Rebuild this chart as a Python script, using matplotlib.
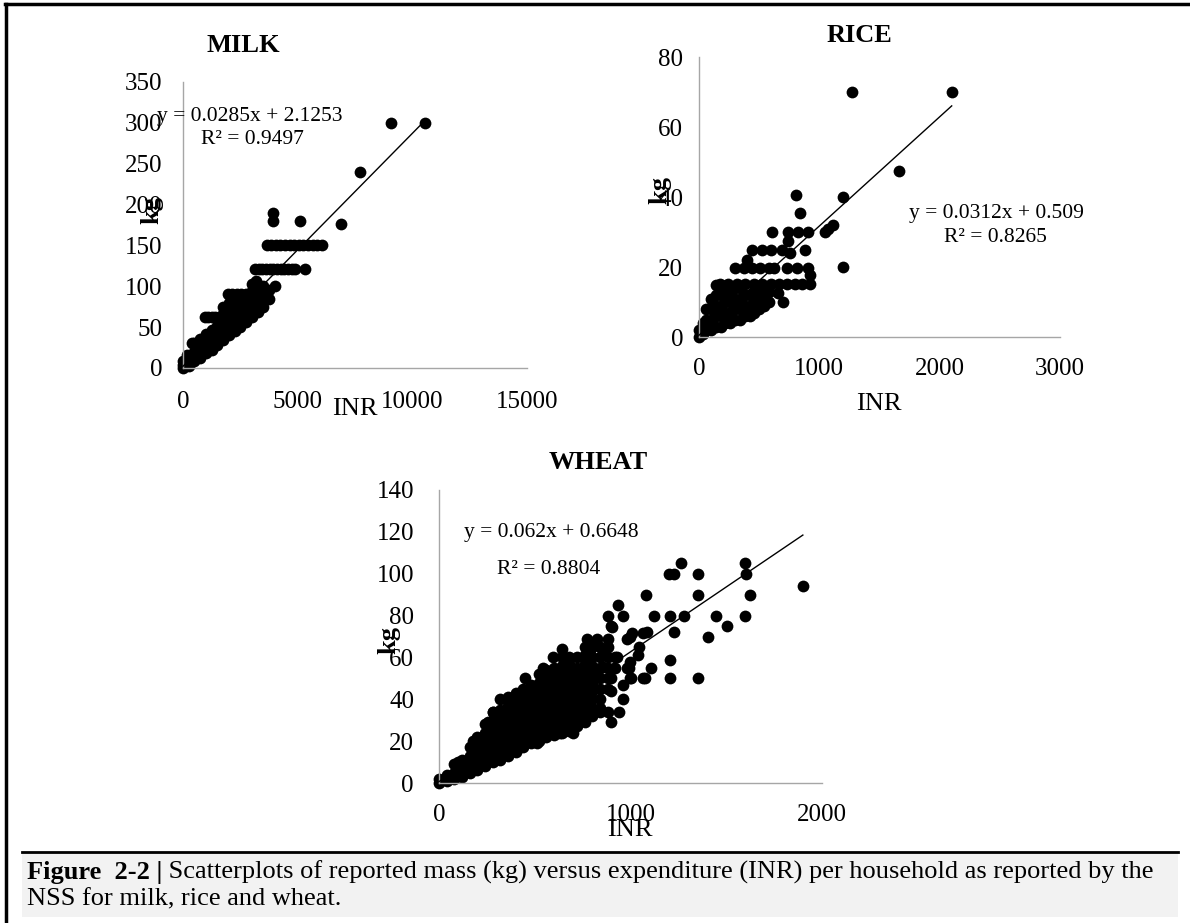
import matplotlib
matplotlib.use("Agg")
import matplotlib.pyplot as plt
from matplotlib.patches import Rectangle
from matplotlib.lines import Line2D

plt.rcParams['font.family'] = ['Liberation Serif', 'DejaVu Serif']

W, H = 1190, 923

# ---------------- DATA ----------------
# MILK (INR, kg)
milk_points = [(9050, 300), (10550, 300), (7700, 240), (6880, 176), (3940, 190), (3940, 180), (5100, 180),
               (3650, 150), (3850, 150), (4050, 150), (4250, 150), (4450, 150), (4650, 150), (4850, 150),
               (5050, 150), (5250, 150), (5450, 150), (5650, 150), (5850, 150), (6050, 150),
               (3140, 121), (3300, 121), (3460, 121), (3620, 121), (3780, 121), (3940, 121), (4100, 121),
               (4260, 121), (4420, 121), (4580, 121), (4740, 121), (4900, 121), (5330, 121),
               (3165, 106), (4000, 100),
               (1975, 90), (2150, 90), (2350, 90), (2550, 90), (2750, 90), (2950, 90), (3150, 90), (3350, 90),
               (960, 62), (1100, 62), (1250, 62), (1400, 62), (1550, 62),
               (380, 30), (160, 16)]
milk_band = [(0, [0, 4, 8]), (250, [3, 8, 14]), (500, [8, 14, 20, 30]), (750, [12, 18, 25, 35]),
             (1000, [18, 25, 33, 42]), (1250, [22, 30, 38, 47]), (1500, [28, 36, 44, 52]),
             (1750, [34, 42, 50, 58, 66, 75]), (2000, [40, 48, 56, 64, 72, 80]),
             (2250, [45, 53, 61, 69, 77, 85]), (2500, [50, 58, 66, 74, 82]),
             (2750, [56, 64, 72, 80, 88]), (3000, [62, 70, 78, 86, 94, 103]),
             (3250, [68, 76, 84, 92, 100]), (3500, [75, 83, 91, 100]), (3750, [85, 95])]
milk_slope, milk_icpt, milk_r2 = 0.0285, 2.1253, 0.9497

# RICE (INR, kg)
rice_points = [(1270, 70), (2100, 70), (1660, 47.5), (1200, 40), (805, 40.6), (840, 35.4), (1200, 20),
               (1050, 30), (1075, 31), (1115, 32),
               (605, 30), (742, 30), (825, 30), (908, 30), (742, 27.3), (881, 24.9),
               (438, 24.9), (520, 24.9), (600, 24.9), (687, 24.9), (756, 24), (396, 22),
               (299, 19.6), (370, 19.6), (440, 19.6), (510, 19.6), (580, 19.6), (620, 19.6),
               (729, 19.6), (812, 19.6), (908, 19.6), (922, 17.7),
               (175, 15.2), (245, 15.2), (315, 15.2), (385, 15.2), (455, 15.2), (525, 15.2),
               (595, 15.2), (665, 15.2), (735, 15.2), (800, 15.2), (860, 15.2), (922, 15.2),
               (659, 12.5), (700, 10)]
rice_blob = [(0, [0, 2]), (30, [1, 4]), (60, [2, 5, 8]), (100, [2, 5, 8, 11]),
             (140, [3, 6, 9, 12, 15]), (180, [3, 6, 9, 12, 15]), (220, [4, 7, 10, 13]),
             (260, [4, 7, 10, 13]), (300, [5, 8, 11, 14]), (340, [5, 8, 11, 14]),
             (380, [6, 9, 12]), (420, [6, 9, 12]), (460, [7, 10, 13]), (500, [8, 11, 14]),
             (540, [9, 12]), (580, [10, 13])]
rice_slope, rice_icpt, rice_r2 = 0.0312, 0.509, 0.8265

# WHEAT (INR, kg)
wheat_points = [(1900, 94), (1600, 105), (1605, 100), (1625, 90), (1600, 80), (1505, 75), (1445, 80),
                (1405, 70), (1355, 100), (1355, 90), (1355, 50), (1265, 105), (1200, 100), (1225, 100),
                (1280, 80), (1205, 80), (1225, 72), (1205, 59), (1205, 50), (1080, 90), (1125, 80),
                (1105, 55), (1075, 50), (1085, 72), (1045, 65), (1006, 71.5), (980, 69), (885, 80),
                (935, 85), (960, 80), (900, 75), (1005, 50), (990, 55), (960, 47), (900, 50), (900, 44),
                (960, 40), (940, 34), (900, 29), (840, 34), (884, 34), (997, 70), (1067, 71.5),
                (980, 55), (997, 50), (1067, 50), (858, 63.6), (928, 60.4), (997, 58), (1041, 61),
                (824, 69), (884, 69), (771, 69), (789, 63.6), (858, 55.6), (902, 74.7),
                (101, 10), (179, 20), (258, 29), (284, 34), (319, 40), (449, 50), (545, 55),
                (641, 64), (597, 60), (701, 24), (632, 24), (510, 19)]
wheat_blob = [(0, [0, 2]), (40, [1, 4]), (80, [2, 5, 9]), (120, [3, 7, 11]), (160, [5, 9, 13, 17]),
              (200, [6, 10, 14, 18, 22]), (240, [8, 12, 16, 20, 24, 28]),
              (280, [10, 14, 18, 22, 26, 30, 34]), (320, [11, 15, 19, 23, 27, 31, 35]),
              (360, [13, 17, 21, 25, 29, 33, 37, 41]), (400, [15, 19, 23, 27, 31, 35, 39, 43]),
              (440, [17, 21, 25, 29, 33, 37, 41, 45]), (480, [19, 23, 27, 31, 35, 39, 43, 47]),
              (520, [20, 24, 28, 32, 36, 40, 44, 48, 52]), (560, [22, 26, 30, 34, 38, 42, 46, 50, 54]),
              (600, [23, 27, 31, 35, 39, 43, 47, 51, 55]), (640, [24, 28, 32, 36, 40, 44, 48, 52, 56, 60]),
              (680, [25, 29, 33, 37, 41, 45, 49, 53, 57, 60]), (720, [27, 31, 35, 39, 43, 47, 51, 55, 60]),
              (760, [29, 33, 37, 41, 45, 49, 53, 57, 61, 65]), (800, [32, 36, 40, 44, 48, 52, 56, 60, 65]),
              (840, [36, 40, 45, 50, 55, 60, 65]), (880, [45, 50, 55, 60, 65]), (920, [55, 60])]
wheat_slope, wheat_icpt, wheat_r2 = 0.062, 0.6648, 0.8804

milk_yticks = [0, 50, 100, 150, 200, 250, 300, 350]
milk_xticks = [0, 5000, 10000, 15000]
rice_yticks = [0, 20, 40, 60, 80]
rice_xticks = [0, 1000, 2000, 3000]
wheat_yticks = [0, 20, 40, 60, 80, 100, 120, 140]
wheat_xticks = [0, 1000, 2000]

caption_bold = "Figure  2-2 |"
caption_rest = " Scatterplots of reported mass (kg) versus expenditure (INR) per household as reported by the"
caption_line2 = "NSS for milk, rice and wheat."


def flatten(points, cols):
    xs = [p[0] for p in points]
    ys = [p[1] for p in points]
    for x, yl in cols:
        for y in yl:
            xs.append(x)
            ys.append(y)
    return xs, ys


fig = plt.figure(figsize=(W / 100, H / 100), dpi=100)


def rect(l, t, r, b):
    return [l / W, 1 - b / H, (r - l) / W, (b - t) / H]


def ftext(x, y, s, **kw):
    return fig.text(x / W, 1 - y / H, s, **kw)


def make_panel(box, xs, ys, slope, icpt, xlim, ylim, xticks, yticks, xpad, ypad):
    ax = fig.add_axes(rect(*box))
    ax.scatter(xs, ys, s=72, c='black', linewidths=0, zorder=2, clip_on=False)
    xmax = max(xs)
    ax.plot([0, xmax], [icpt, slope * xmax + icpt], color='black', lw=1.0, zorder=3, clip_on=False)
    ax.set_xlim(*xlim)
    ax.set_ylim(*ylim)
    ax.set_xticks(xticks)
    ax.set_yticks(yticks)
    ax.set_xticklabels([str(t) for t in xticks])
    ax.set_yticklabels([str(t) for t in yticks])
    for sp in ['top', 'right']:
        ax.spines[sp].set_visible(False)
    for sp in ['left', 'bottom']:
        ax.spines[sp].set_color('#a6a6a6')
        ax.spines[sp].set_linewidth(1.0)
    ax.tick_params(axis='x', length=0, pad=xpad, labelsize=18)
    ax.tick_params(axis='y', length=0, pad=ypad, labelsize=18)
    ax.patch.set_alpha(0)
    return ax


mx, my = flatten(milk_points, milk_band)
rx, ry = flatten(rice_points, rice_blob)
wx, wy = flatten(wheat_points, wheat_blob)

make_panel((183, 82, 527, 368), mx, my, milk_slope, milk_icpt, (0, 15000), (0, 350),
           milk_xticks, milk_yticks, 16.5, 15)
make_panel((699, 57, 1060, 337), rx, ry, rice_slope, rice_icpt, (0, 3000), (0, 80),
           rice_xticks, rice_yticks, 15, 11.5)
make_panel((439, 490, 822, 783), wx, wy, wheat_slope, wheat_icpt, (0, 2000), (0, 140),
           wheat_xticks, wheat_yticks, 15, 18)

# Titles
ftext(243, 45, "MILK", ha='center', va='center', fontsize=19, fontweight='bold')
ftext(859, 36, "RICE", ha='center', va='center', fontsize=19, fontweight='bold')
ftext(598, 463, "WHEAT", ha='center', va='center', fontsize=19, fontweight='bold')

# axis labels
ftext(152, 210, "kg", ha='center', va='center', fontsize=19, fontweight='bold', rotation=90)
ftext(660, 190, "kg", ha='center', va='center', fontsize=19, fontweight='bold', rotation=90)
ftext(389, 640, "kg", ha='center', va='center', fontsize=19, fontweight='bold', rotation=90)
ftext(355, 409, "INR", ha='center', va='center', fontsize=19)
ftext(879, 404, "INR", ha='center', va='center', fontsize=19)
ftext(630, 830, "INR", ha='center', va='center', fontsize=19)

# Equations
ftext(250, 117, f"y = {milk_slope}x + {milk_icpt}", ha='center', va='center', fontsize=15.5)
ftext(252, 140, f"R² = {milk_r2}", ha='center', va='center', fontsize=15.5)
ftext(996, 213, f"y = {rice_slope}x + {rice_icpt}", ha='center', va='center', fontsize=15.5)
ftext(995, 238, f"R² = {rice_r2}", ha='center', va='center', fontsize=15.5)
ftext(551, 533, f"y = {wheat_slope}x + {wheat_icpt}", ha='center', va='center', fontsize=15.5)
ftext(549, 569, f"R² = {wheat_r2}", ha='center', va='center', fontsize=15.5)

# Frame / caption box
fig.add_artist(Rectangle((22 / W, 1 - 917 / H), (1178 - 22) / W, (917 - 852) / H,
                         transform=fig.transFigure, facecolor='#f2f2f2', edgecolor='none', zorder=0))
fig.add_artist(Line2D([22 / W, 1178 / W], [1 - 852 / H, 1 - 852 / H], transform=fig.transFigure,
                      color='black', lw=2.0))
fig.add_artist(Line2D([5 / W, 1.0], [1 - 4 / H, 1 - 4 / H], transform=fig.transFigure,
                      color='black', lw=2.5))
fig.add_artist(Line2D([6 / W, 6 / W], [0, 1 - 4 / H], transform=fig.transFigure,
                      color='black', lw=2.5))

cap_fs = 19
t1 = ftext(27, 879, caption_bold, ha='left', va='baseline', fontsize=cap_fs, fontweight='bold')
fig.canvas.draw()
r = fig.canvas.get_renderer()
bb = t1.get_window_extent(renderer=r)
fig.text(bb.x1 / W, 1 - 879 / H, caption_rest, ha='left', va='baseline', fontsize=cap_fs)
ftext(27, 905, caption_line2, ha='left', va='baseline', fontsize=cap_fs)

fig.savefig("out.png", dpi=100, facecolor='white')
